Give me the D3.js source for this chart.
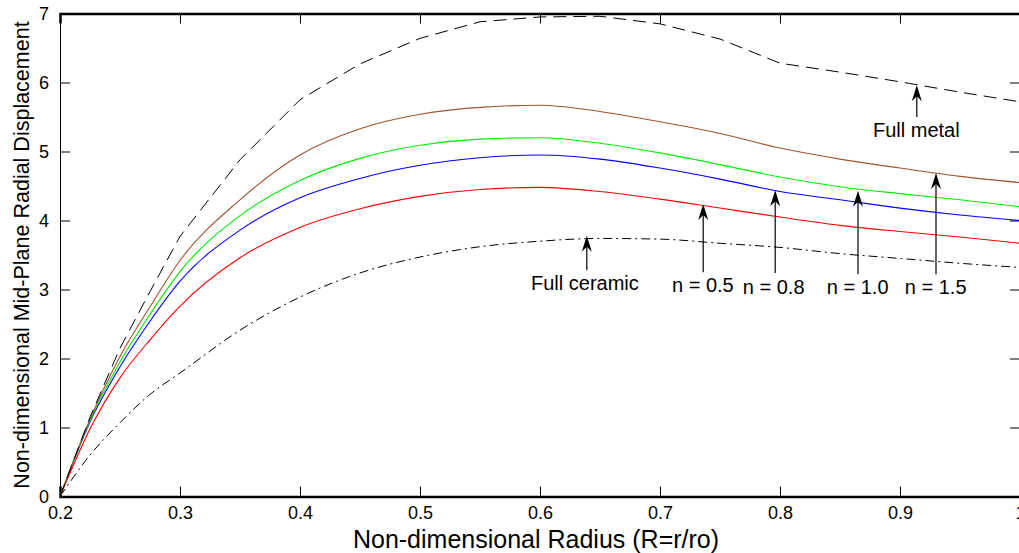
<!DOCTYPE html>
<html>
<head>
<meta charset="utf-8">
<script src="https://cdn.jsdelivr.net/npm/d3@7"></script>
<style>
  html, body { margin: 0; padding: 0; background: #fff; }
  svg { display: block; font-family: "Liberation Sans", Arial, sans-serif; }
</style>
</head>
<body>
<svg id="chart" width="1019" height="553"></svg>
<script>
// ---- data ----
const radius = [0.2, 0.225, 0.25, 0.275, 0.3, 0.35, 0.4, 0.45, 0.5, 0.55, 0.6, 0.65, 0.7, 0.75, 0.8, 0.85, 0.9, 0.95, 1.0];
const fullMetal   = [0, 1.15, 2.15, 2.97, 3.77, 4.88, 5.75, 6.27, 6.64, 6.88, 6.95, 6.96, 6.85, 6.63, 6.28, 6.15, 6.01, 5.86, 5.72];
const n15         = [0, 1.12, 2.03, 2.75, 3.42, 4.30, 4.95, 5.33, 5.54, 5.64, 5.67, 5.58, 5.43, 5.26, 5.05, 4.89, 4.76, 4.64, 4.55];
const n10         = [0, 1.10, 1.95, 2.64, 3.26, 4.07, 4.58, 4.90, 5.09, 5.18, 5.20, 5.12, 4.98, 4.81, 4.63, 4.49, 4.39, 4.30, 4.20];
const n08         = [0, 1.08, 1.88, 2.54, 3.12, 3.86, 4.33, 4.61, 4.80, 4.91, 4.95, 4.89, 4.76, 4.60, 4.42, 4.30, 4.18, 4.08, 4.00];
const n05         = [0, 0.98, 1.72, 2.27, 2.76, 3.46, 3.90, 4.17, 4.35, 4.45, 4.48, 4.42, 4.31, 4.18, 4.05, 3.93, 3.84, 3.76, 3.67];
const fullCeramic = [0, 0.60, 1.07, 1.48, 1.79, 2.41, 2.89, 3.24, 3.47, 3.62, 3.70, 3.74, 3.73, 3.67, 3.61, 3.52, 3.45, 3.38, 3.32];

const xTicks = [0.2, 0.3, 0.4, 0.5, 0.6, 0.7, 0.8, 0.9, 1.0];
const xTickLabels = ["0.2", "0.3", "0.4", "0.5", "0.6", "0.7", "0.8", "0.9", "1"];
const yTicks = [0, 1, 2, 3, 4, 5, 6, 7];

const xTitle = "Non-dimensional Radius (R=r/ro)";
const yTitle = "Non-dimensional Mid-Plane Radial Displacement";

// annotations: label, text x, text baseline y, arrow x, arrow tip y, arrow base y (data units)
const annLabels = ["Full metal", "Full ceramic", "n = 0.5", "n = 0.8", "n = 1.0", "n = 1.5"];
const annTextX  = [0.8775, 0.5925, 0.7100, 0.7690, 0.8390, 0.9040];
const annTextY  = [5.21, 2.99, 2.96, 2.93, 2.93, 2.93];
const annArrowX = [0.914, 0.639, 0.736, 0.796, 0.865, 0.930];
const annTipY   = [5.96, 3.78, 4.24, 4.44, 4.43, 4.69];
const annBaseY  = [5.50, 3.28, 3.25, 3.24, 3.22, 3.22];

// ---- layout ----
const svg = d3.select("#chart");
const mLeft = 60, mRight = 1020, mTop = 13.5, mBottom = 496.5;

const x = d3.scaleLinear().domain([0.2, 1.0]).range([mLeft, mRight]);
const y = d3.scaleLinear().domain([0, 7]).range([mBottom, mTop]);

// axes (ticks inward, box style)
const gB = svg.append("g").attr("transform", `translate(0,${mBottom})`)
  .call(d3.axisBottom(x).tickValues(xTicks).tickSize(-10).tickPadding(10)
    .tickFormat((d, i) => xTickLabels[i]));
const gT = svg.append("g").attr("transform", `translate(0,${mTop})`)
  .call(d3.axisTop(x).tickValues(xTicks).tickSize(-10).tickFormat(""));
const gL = svg.append("g").attr("transform", `translate(${mLeft},0)`)
  .call(d3.axisLeft(y).tickValues(yTicks).tickSize(-10).tickPadding(11).tickFormat(d3.format("d")));
const gR = svg.append("g").attr("transform", `translate(${mRight},0)`)
  .call(d3.axisRight(y).tickValues(yTicks).tickSize(-10).tickFormat(""));

[gB, gT, gL, gR].forEach(g => {
  g.select(".domain").attr("stroke", "#000").attr("stroke-width", 1);
  g.selectAll(".tick line").attr("stroke", "#000").attr("stroke-width", 1);
  g.selectAll(".tick text").attr("fill", "#000").attr("font-size", 18)
    .attr("font-family", "'Liberation Sans', Arial, sans-serif");
});
gB.select(".domain").attr("stroke-width", 2.5);
gT.select(".domain").attr("stroke-width", 2.5);

// lines
const pts = vals => radius.map((r, i) => [r, vals[i]]);
const smooth = d3.line().x(d => x(d[0])).y(d => y(d[1])).curve(d3.curveMonotoneX);
const straight = d3.line().x(d => x(d[0])).y(d => y(d[1]));

const plot = svg.append("g");
plot.append("path").attr("d", smooth(pts(fullCeramic))).attr("fill", "none")
  .attr("stroke", "#000").attr("stroke-width", 1).attr("stroke-dasharray", "9,4,2,4");
plot.append("path").attr("d", smooth(pts(n05))).attr("fill", "none").attr("stroke", "#ff0000").attr("stroke-width", 1.1);
plot.append("path").attr("d", smooth(pts(n08))).attr("fill", "none").attr("stroke", "#0000ff").attr("stroke-width", 1.1);
plot.append("path").attr("d", smooth(pts(n10))).attr("fill", "none").attr("stroke", "#00ee00").attr("stroke-width", 1.1);
plot.append("path").attr("d", smooth(pts(n15))).attr("fill", "none").attr("stroke", "#a0522d").attr("stroke-width", 1.1);
plot.append("path").attr("d", straight(pts(fullMetal))).attr("fill", "none")
  .attr("stroke", "#000").attr("stroke-width", 1).attr("stroke-dasharray", "13,7");

// annotations
const ann = svg.append("g");
annLabels.forEach((lab, i) => {
  const ax = x(annArrowX[i]), ty = y(annTipY[i]), by = y(annBaseY[i]);
  ann.append("line").attr("x1", ax).attr("x2", ax).attr("y1", by).attr("y2", ty + 6)
    .attr("stroke", "#000").attr("stroke-width", 1.2);
  ann.append("path")
    .attr("d", `M${ax},${ty} L${ax - 5},${ty + 16} L${ax},${ty + 11} L${ax + 5},${ty + 16} Z`)
    .attr("fill", "#000");
  ann.append("text").attr("x", x(annTextX[i])).attr("y", y(annTextY[i]))
    .attr("font-size", 20).attr("fill", "#000").text(lab);
});

// titles
svg.append("text").attr("x", 536).attr("y", 548)
  .attr("text-anchor", "middle").attr("font-size", 25).attr("fill", "#000").text(xTitle);
svg.append("text").attr("transform", `translate(29,${(mTop + mBottom) / 2}) rotate(-90)`)
  .attr("text-anchor", "middle").attr("font-size", 21.5).attr("fill", "#000").text(yTitle);
</script>
</body>
</html>
